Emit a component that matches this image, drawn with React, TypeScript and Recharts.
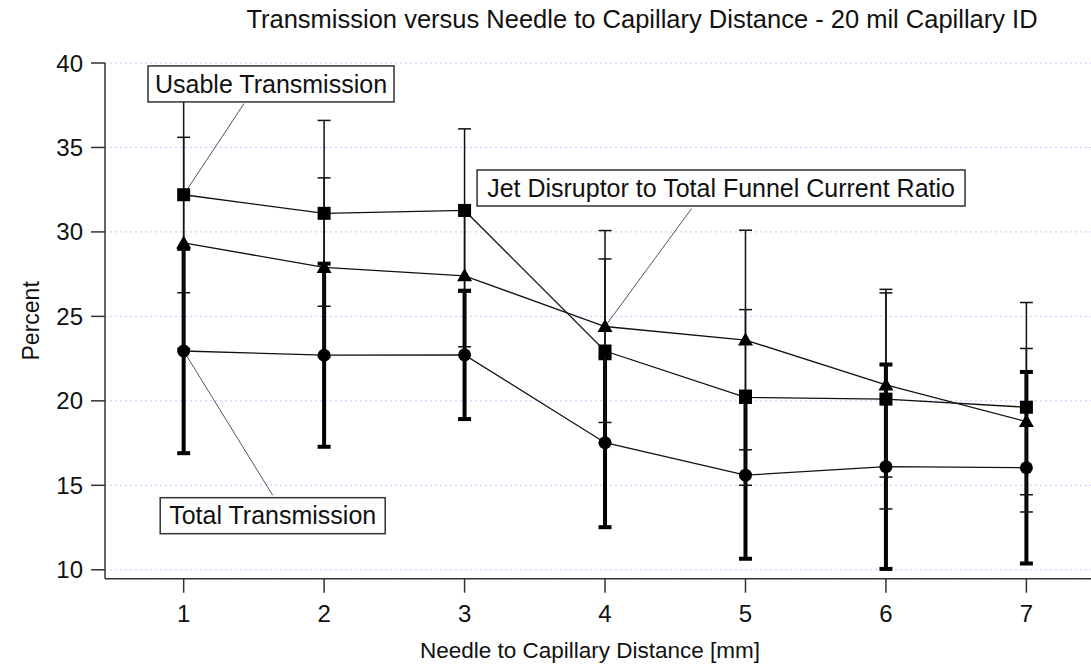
import React from "react";
import {
  LineChart,
  Line,
  XAxis,
  YAxis,
  CartesianGrid,
  ErrorBar,
  ReferenceLine,
  ReferenceDot,
  Label,
} from "recharts";

const FONT = "'Liberation Sans', Arial, sans-serif";

// needle to capillary distance [mm]
const distances = [1, 2, 3, 4, 5, 6, 7];

// Usable Transmission (squares)
const usable = [32.2, 31.1, 31.27, 22.95, 20.2, 20.1, 19.62];
const usableErr = [5.8, 5.5, 4.83, 5.45, 5.2, 6.5, 6.2];

// Jet Disruptor to Total Funnel Current Ratio (triangles)
const jet = [29.35, 27.9, 27.4, 24.4, 23.6, 20.94, 18.77];
const jetErr = [6.25, 5.3, 4.2, 5.68, 6.5, 5.45, 4.33];

// Total Transmission (circles)
const total = [22.95, 22.7, 22.72, 17.52, 15.6, 16.1, 16.04];
const totalErr = [6.05, 5.42, 3.8, 5.0, 4.95, 6.05, 5.67];

const xTicks = [1, 2, 3, 4, 5, 6, 7];
const yTicks = [10, 15, 20, 25, 30, 35, 40];

const data = distances.map((x, i) => ({
  x,
  usable: usable[i],
  usableErr: usableErr[i],
  jet: jet[i],
  jetErr: jetErr[i],
  total: total[i],
  totalErr: totalErr[i],
}));

const SquareDot = (props: any) => {
  const { cx, cy, index } = props;
  if (cx == null || cy == null) return <g key={`s-${index}`} />;
  return <rect key={`s-${index}`} x={cx - 6.5} y={cy - 6.5} width={13} height={13} fill="#000" />;
};

const TriangleDot = (props: any) => {
  const { cx, cy, index } = props;
  if (cx == null || cy == null) return <g key={`t-${index}`} />;
  return (
    <polygon
      key={`t-${index}`}
      points={`${cx},${cy - 7.5} ${cx - 7.5},${cy + 5.5} ${cx + 7.5},${cy + 5.5}`}
      fill="#000"
    />
  );
};

const CircleDot = (props: any) => {
  const { cx, cy, index } = props;
  if (cx == null || cy == null) return <g key={`c-${index}`} />;
  return <circle key={`c-${index}`} cx={cx} cy={cy} r={6.5} fill="#000" />;
};

// boxed annotation text centred on a data position
const boxShape = (text: string, w: number) => (props: any) => {
  const { cx, cy } = props;
  const h = 36;
  return (
    <g>
      <rect x={cx - w / 2} y={cy - h / 2} width={w} height={h} fill="#fff" stroke="#333" strokeWidth={1.5} />
      <text
        x={cx}
        y={cy}
        dy="0.35em"
        textAnchor="middle"
        fontFamily={FONT}
        fontSize={25}
        fill="#111"
      >
        {text}
      </text>
    </g>
  );
};

export default function App() {
  return (
    <div style={{ position: "fixed", left: 0, top: 0, width: 1091, height: 664, background: "#fff" }}>
      <div
        style={{
          position: "absolute",
          left: 642,
          top: 5,
          transform: "translateX(-50%)",
          whiteSpace: "nowrap",
          fontFamily: FONT,
          fontSize: 25.5,
          color: "#111",
        }}
      >
        Transmission versus Needle to Capillary Distance - 20 mil Capillary ID
      </div>
      <LineChart
        width={1091}
        height={664}
        data={data}
        margin={{ top: 63, right: 0, bottom: 0, left: 0 }}
      >
        <CartesianGrid vertical={false} stroke="#c4c4ff" strokeDasharray="2 3" />
        <XAxis
          type="number"
          dataKey="x"
          domain={[0.44, 7.46]}
          ticks={xTicks}
          allowDataOverflow
          height={85.3}
          tickSize={14}
          tickMargin={12}
          stroke="#333"
          strokeWidth={1.5}
          tick={{ fill: "#111", fontSize: 24, fontFamily: FONT }}
        >
          <Label
            content={({ viewBox }: any) => (
              <text
                x={590}
                y={viewBox.y + viewBox.height - 6}
                textAnchor="middle"
                fontFamily={FONT}
                fontSize={22.5}
                fill="#111"
              >
                Needle to Capillary Distance [mm]
              </text>
            )}
          />
        </XAxis>
        <YAxis
          type="number"
          domain={[9.47, 40]}
          ticks={yTicks}
          allowDataOverflow
          width={105}
          tickSize={14}
          tickMargin={8}
          stroke="#333"
          strokeWidth={1.5}
          tick={{ fill: "#111", fontSize: 24, fontFamily: FONT }}
        >
          <Label
            content={({ viewBox }: any) => {
              const cx = viewBox.x + 31;
              const cy = viewBox.y + viewBox.height / 2;
              return (
                <text
                  x={cx}
                  y={cy}
                  dy="0.35em"
                  textAnchor="middle"
                  transform={`rotate(-90 ${cx} ${cy})`}
                  fontFamily={FONT}
                  fontSize={23}
                  fill="#111"
                >
                  Percent
                </text>
              );
            }}
          />
        </YAxis>

        <Line
          dataKey="total"
          stroke="#111"
          strokeWidth={1.3}
          dot={CircleDot}
          activeDot={false}
          isAnimationActive={false}
        >
          <ErrorBar dataKey="totalErr" direction="y" width={6.5} stroke="#000" strokeWidth={4} />
        </Line>
        <Line
          dataKey="jet"
          stroke="#111"
          strokeWidth={1.3}
          dot={TriangleDot}
          activeDot={false}
          isAnimationActive={false}
        >
          <ErrorBar dataKey="jetErr" direction="y" width={6.5} stroke="#111" strokeWidth={1.5} />
        </Line>
        <Line
          dataKey="usable"
          stroke="#111"
          strokeWidth={1.3}
          dot={SquareDot}
          activeDot={false}
          isAnimationActive={false}
        >
          <ErrorBar dataKey="usableErr" direction="y" width={6.5} stroke="#111" strokeWidth={1.5} />
        </Line>

        <ReferenceLine
          segment={[
            { x: 1, y: 32.2 },
            { x: 1.43, y: 37.6 },
          ]}
          stroke="#555"
          strokeWidth={1}
        />
        <ReferenceLine
          segment={[
            { x: 4, y: 24.4 },
            { x: 4.617, y: 31.39 },
          ]}
          stroke="#555"
          strokeWidth={1}
        />
        <ReferenceLine
          segment={[
            { x: 1, y: 22.95 },
            { x: 1.634, y: 14.41 },
          ]}
          stroke="#555"
          strokeWidth={1}
        />
        <ReferenceDot x={1.622} y={38.76} r={1} shape={boxShape("Usable Transmission", 246)} ifOverflow="visible" />
        <ReferenceDot
          x={4.826}
          y={32.6}
          r={1}
          shape={boxShape("Jet Disruptor to Total Funnel Current Ratio", 488)}
          ifOverflow="visible"
        />
        <ReferenceDot x={1.634} y={13.2} r={1} shape={boxShape("Total Transmission", 225)} ifOverflow="visible" />
      </LineChart>
    </div>
  );
}
